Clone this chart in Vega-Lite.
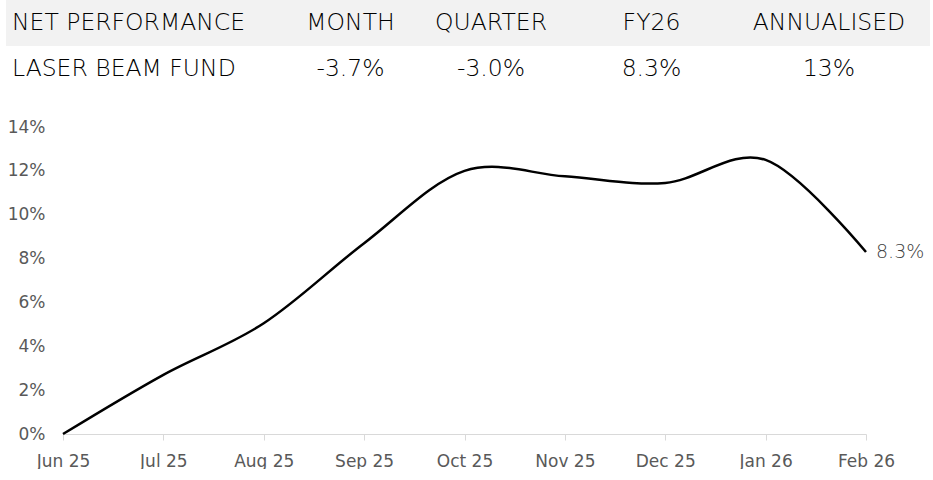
{
  "$schema": "https://vega.github.io/schema/vega-lite/v6.json",
  "padding": {"left": 6, "top": 0, "right": 0, "bottom": 0},
  "background": "white",
  "spacing": 26,
  "config": {"view": {"stroke": null}},
  "vconcat": [
    {
      "width": 867,
      "height": 92,
      "data": {
        "values": [
          {"row": "header", "col": 0, "label": "NET PERFORMANCE"},
          {"row": "header", "col": 1, "label": "MONTH"},
          {"row": "header", "col": 2, "label": "QUARTER"},
          {"row": "header", "col": 3, "label": "FY26"},
          {"row": "header", "col": 4, "label": "ANNUALISED"},
          {"row": "fund", "col": 0, "label": "LASER BEAM FUND"},
          {"row": "fund", "col": 1, "label": "-3.7%"},
          {"row": "fund", "col": 2, "label": "-3.0%"},
          {"row": "fund", "col": 3, "label": "8.3%"},
          {"row": "fund", "col": 4, "label": "13%"}
        ]
      },
      "layer": [
        {
          "transform": [{"filter": "datum.row == 'header' && datum.col == 0"}],
          "mark": {"type": "rect", "color": "#f2f2f2"},
          "encoding": {
            "x": {"datum": -1, "type": "quantitative", "axis": null,
                  "scale": {"domain": [-1, 0, 1, 2, 3, 4, 5], "range": [-57, -51, 287.5, 428, 588.5, 766, 867], "nice": false, "zero": false}},
            "x2": {"datum": 5},
            "y": {"field": "row", "type": "nominal", "axis": null,
                  "scale": {"type": "band", "domain": ["header", "fund"], "paddingInner": 0, "paddingOuter": 0}}
          }
        },
        {
          "transform": [{"filter": "datum.col == 0"}],
          "mark": {"type": "text", "align": "left", "baseline": "middle", "font": "DejaVu Sans", "fontWeight": 200, "fontSize": 23.5, "color": "#000000"},
          "encoding": {
            "x": {"field": "col", "type": "quantitative", "axis": null},
            "y": {"field": "row", "type": "nominal", "axis": null, "bandPosition": 0.5},
            "text": {"field": "label"}
          }
        },
        {
          "transform": [{"filter": "datum.col != 0"}],
          "mark": {"type": "text", "align": "center", "baseline": "middle", "font": "DejaVu Sans", "fontWeight": 200, "fontSize": 23.5, "color": "#000000"},
          "encoding": {
            "x": {"field": "col", "type": "quantitative", "axis": null},
            "y": {"field": "row", "type": "nominal", "axis": null, "bandPosition": 0.5},
            "text": {"field": "label"}
          }
        }
      ]
    },
    {
      "width": 803,
      "height": 307,
      "data": {
        "values": [
          {"month": "Jun 25", "value": 0.0},
          {"month": "Jul 25", "value": 0.027},
          {"month": "Aug 25", "value": 0.0505},
          {"month": "Sep 25", "value": 0.087},
          {"month": "Oct 25", "value": 0.12},
          {"month": "Nov 25", "value": 0.1175},
          {"month": "Dec 25", "value": 0.1145},
          {"month": "Jan 26", "value": 0.125},
          {"month": "Feb 26", "value": 0.083}
        ]
      },
      "encoding": {
        "x": {"field": "month", "type": "ordinal", "sort": null, "title": null,
              "scale": {"type": "point", "padding": 0},
              "axis": {"labelAngle": 0, "grid": false, "domainColor": "#d9d9d9", "tickColor": "#d9d9d9", "tickSize": 6,
                       "labelColor": "#595959", "labelFont": "DejaVu Sans", "labelFontSize": 17, "labelPadding": 13}},
        "y": {"field": "value", "type": "quantitative", "title": null,
              "scale": {"domain": [0, 0.14], "nice": false},
              "axis": {"values": [0, 0.02, 0.04, 0.06, 0.08, 0.1, 0.12, 0.14], "format": ".0%", "grid": false, "domain": false,
                       "ticks": false, "tickSize": 0, "labelColor": "#595959", "labelFont": "DejaVu Sans", "labelFontSize": 17, "labelPadding": 18}}
      },
      "layer": [
        {
          "mark": {"type": "line", "interpolate": "cardinal", "color": "#000000", "strokeWidth": 2.5}
        },
        {
          "transform": [{"filter": "datum.month == 'Feb 26'"}],
          "mark": {"type": "text", "align": "left", "baseline": "middle", "dx": 10, "font": "DejaVu Sans", "fontWeight": 200, "fontSize": 19, "color": "#404040"},
          "encoding": {"text": {"field": "value", "type": "quantitative", "format": ".1%"}}
        }
      ]
    }
  ]
}
